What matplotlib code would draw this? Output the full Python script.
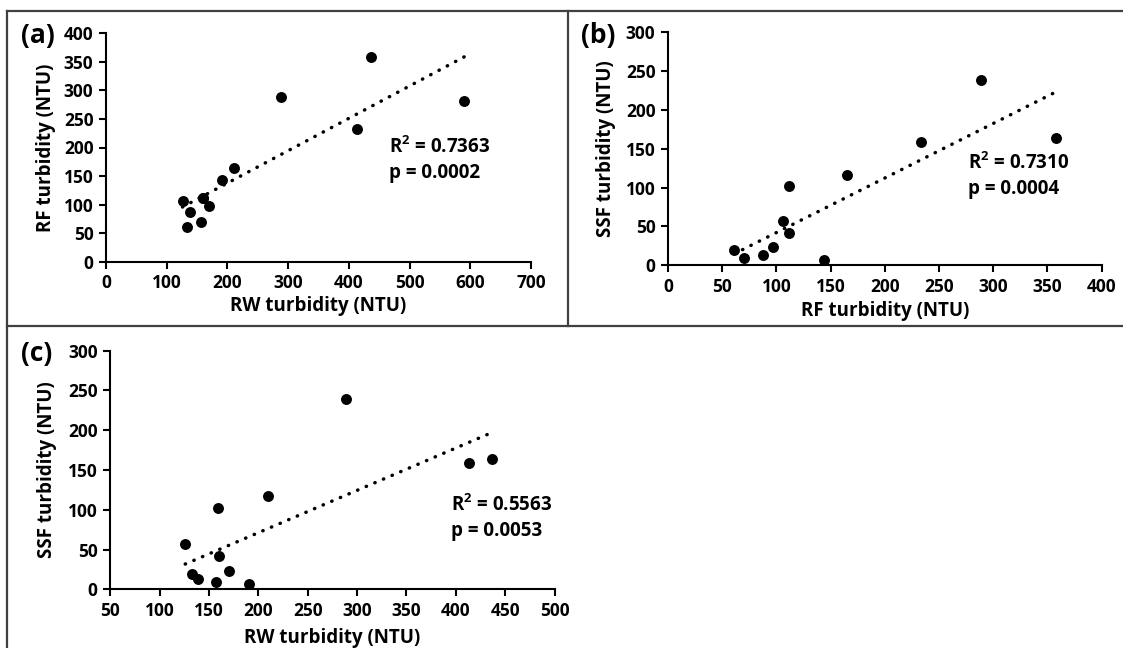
import numpy as np
import matplotlib
matplotlib.use("Agg")
import matplotlib.pyplot as plt
from matplotlib.lines import Line2D

plt.rcParams['font.family'] = ['Open Sans', 'DejaVu Sans']
plt.rcParams['font.weight'] = 'bold'
plt.rcParams['mathtext.fontset'] = 'custom'
plt.rcParams['mathtext.rm'] = 'Open Sans:bold'
plt.rcParams['mathtext.bf'] = 'Open Sans:bold'

# Sample data (NTU); the last sample has no SSF reading
rw_turbidity = [126, 133, 139, 157, 159, 160, 170, 191, 210, 289, 413, 437, 590]
rf_turbidity = [106, 61, 88, 70, 112, 112, 97, 144, 165, 289, 233, 358, 282]
ssf_turbidity = [56.6, 19.5, 12.8, 9.8, 102.4, 41.8, 23.1, 6.4, 116.9, 239.2, 159, 164.3, None]

panel_labels = ['(a)', '(b)', '(c)']
r2_values = ['0.7363', '0.7310', '0.5563']
p_values = ['0.0002', '0.0004', '0.0053']
xlabels = ['RW turbidity (NTU)', 'RF turbidity (NTU)', 'RW turbidity (NTU)']
ylabels = ['RF turbidity (NTU)', 'SSF turbidity (NTU)', 'SSF turbidity (NTU)']
xticks_list = [np.arange(0, 701, 100), np.arange(0, 401, 50), np.arange(50, 501, 50)]
yticks_list = [np.arange(0, 401, 50), np.arange(0, 301, 50), np.arange(0, 301, 50)]

W, H = 1123, 648
fig = plt.figure(figsize=(W / 100, H / 100), dpi=100)

def fx(px):
    return px / W

def fy(py):
    return 1 - py / H

# axes boxes in pixel coords: left, right, top, bottom
boxes = [(106, 531, 33, 262), (668, 1101.7, 32.3, 265.3), (110.2, 554.5, 350.7, 589.3)]

def pair(xs, ys):
    x, y = [], []
    for a, b in zip(xs, ys):
        if a is not None and b is not None:
            x.append(a); y.append(b)
    return np.array(x, float), np.array(y, float)

datasets = [pair(rw_turbidity, rf_turbidity),
            pair(rf_turbidity, ssf_turbidity),
            pair(rw_turbidity, ssf_turbidity)]

# text positions (pixel coords)
label_pos = [(21, 35), (581, 35), (21, 354)]
stat_pos = [(389, 147), (968, 163), (451, 505)]
ylab_x = [46, 606, 47]
xlab_y = [306, 311, 638]

for i, (l, r, t, b) in enumerate(boxes):
    ax = fig.add_axes([fx(l), fy(b), fx(r) - fx(l), fy(t) - fy(b)])
    x, y = datasets[i]
    ax.scatter(x, y, s=62, color='black', zorder=3, clip_on=False, linewidths=0)
    k, c = np.polyfit(x, y, 1)
    xl = np.array([x.min(), x.max()])
    ax.plot(xl, k * xl + c, color='black', lw=2.5, linestyle=(0, (0.1, 2.6)),
            dash_capstyle='round', zorder=2)
    xt, yt = xticks_list[i], yticks_list[i]
    ax.set_xlim(xt[0], xt[-1])
    ax.set_ylim(yt[0], yt[-1])
    ax.set_xticks(xt)
    ax.set_yticks(yt)
    for s in ['top', 'right']:
        ax.spines[s].set_visible(False)
    for s in ['left', 'bottom']:
        ax.spines[s].set_linewidth(1.5)
        ax.spines[s].set_color('black')
    ax.tick_params(direction='out', length=5, width=1.5, labelsize=12.5, pad=4)
    for lab in ax.get_xticklabels() + ax.get_yticklabels():
        lab.set_fontweight('bold')
    ax.set_facecolor('none')
    fig.text(fx((l + r) / 2), fy(xlab_y[i]), xlabels[i], fontsize=13.5,
             fontweight='bold', ha='center', va='center')
    fig.text(fx(ylab_x[i]), fy((t + b) / 2), ylabels[i], rotation=90, fontsize=13.5,
             fontweight='bold', ha='center', va='center')
    fig.text(fx(label_pos[i][0]), fy(label_pos[i][1]), panel_labels[i], fontsize=19,
             fontweight='bold', ha='left', va='center')
    sx, sy = stat_pos[i]
    fig.text(fx(sx), fy(sy), r'R$^{2}$ = ' + r2_values[i], fontsize=13.5,
             fontweight='bold', ha='left', va='center')
    fig.text(fx(sx), fy(sy + 26), 'p = ' + p_values[i], fontsize=13.5,
             fontweight='bold', ha='left', va='center')

# frame lines
fc = '#404040'
lw = 1.6
fig.add_artist(Line2D([fx(7.3), fx(1123)], [fy(10.7), fy(10.7)], color=fc, lw=lw))
fig.add_artist(Line2D([fx(7.3), fx(7.3)], [fy(10.7), fy(648)], color=fc, lw=lw))
fig.add_artist(Line2D([fx(567.7), fx(567.7)], [fy(10.7), fy(325.7)], color=fc, lw=lw))
fig.add_artist(Line2D([fx(7.3), fx(1123)], [fy(325.7), fy(325.7)], color=fc, lw=lw))

fig.savefig('out.png', dpi=100, facecolor='white')
